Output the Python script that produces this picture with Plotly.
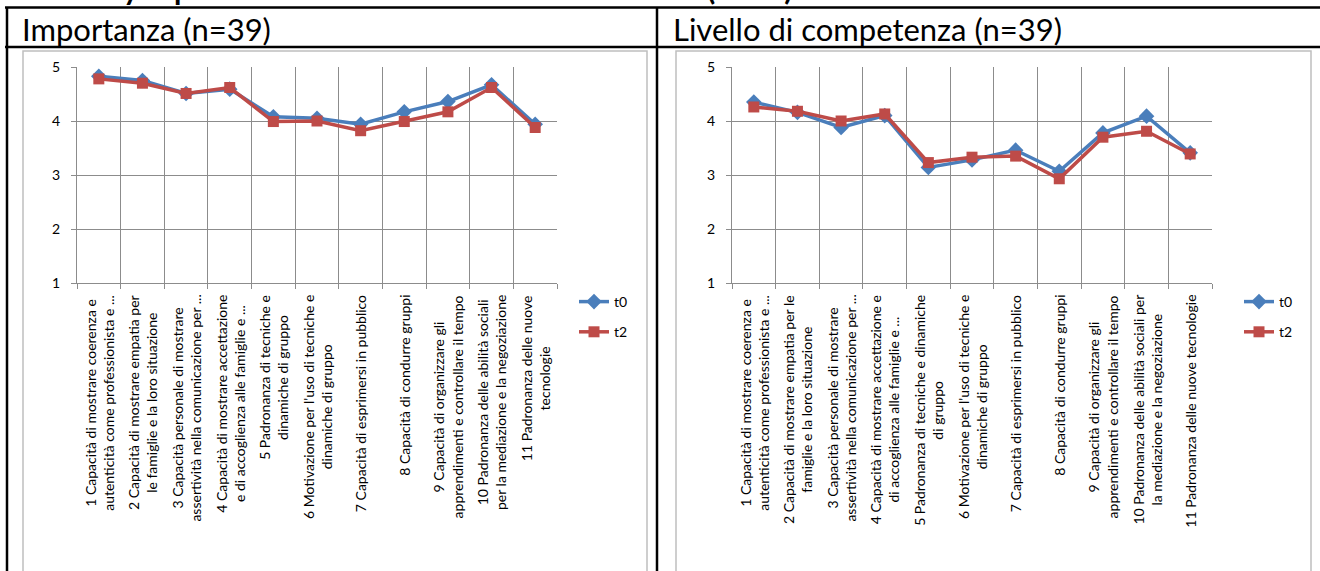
import plotly.graph_objects as go

W, H = 1320, 571

# --- data -------------------------------------------------------------
etichette_importanza = [
    "1 Capacità di mostrare coerenza e<br>autenticità come professionista e ...",
    "2 Capacità di mostrare empatia per<br>le famiglie e la loro situazione",
    "3 Capacità personale di mostrare<br>assertività nella comunicazione per ...",
    "4 Capacità di mostrare accettazione<br>e di accoglienza alle famiglie e ...",
    "5 Padronanza di tecniche e<br>dinamiche di gruppo",
    "6 Motivazione per l'uso di tecniche e<br>dinamiche di gruppo",
    "7 Capacità di esprimersi in pubblico",
    "8 Capacità di condurre gruppi",
    "9 Capacità di organizzare gli<br>apprendimenti e controllare il tempo",
    "10 Padronanza delle abilità sociali<br>per la mediazione e la negoziazione",
    "11 Padronanza delle nuove<br>tecnologie",
]
etichette_livello = [
    "1 Capacità di mostrare coerenza e<br>autenticità come professionista e ...",
    "2 Capacità di mostrare empatia per le<br>famiglie e la loro situazione",
    "3 Capacità personale di mostrare<br>assertività nella comunicazione per ...",
    "4 Capacità di mostrare accettazione e<br>di accoglienza alle famiglie e ...",
    "5 Padronanza di tecniche e dinamiche<br>di gruppo",
    "6 Motivazione per l'uso di tecniche e<br>dinamiche di gruppo",
    "7 Capacità di esprimersi in pubblico",
    "8 Capacità di condurre gruppi",
    "9 Capacità di organizzare gli<br>apprendimenti e controllare il tempo",
    "10 Padronanza delle abilità sociali per<br>la mediazione e la negoziazione",
    "11 Padronanza delle nuove tecnologie",
]

importanza_t0 = [4.83, 4.75, 4.51, 4.59, 4.08, 4.05, 3.94, 4.17, 4.36, 4.67, 3.94]
importanza_t2 = [4.78, 4.70, 4.51, 4.62, 3.99, 4.00, 3.82, 3.99, 4.17, 4.62, 3.88]
livello_t0 = [4.35, 4.16, 3.88, 4.10, 3.14, 3.28, 3.46, 3.07, 3.78, 4.09, 3.41]
livello_t2 = [4.26, 4.18, 4.00, 4.13, 3.23, 3.33, 3.35, 2.93, 3.70, 3.81, 3.39]

valori_y = [1, 2, 3, 4, 5]
pannelli = ["Importanza (n=39)", "Livello di competenza (n=39)"]

# --- helpers (pixel -> paper) -----------------------------------------
def xp(px):
    return px / W


def yp(py):
    return 1 - py / H


BLU = "#4A7EBB"
ROSSO = "#BE4B48"
GRIGIO = "#8C8C8C"
FONT = "Lato, 'Open Sans', sans-serif"

n = len(importanza_t0)
xs = list(range(1, n + 1))
confini = [i + 0.5 for i in range(0, n + 1)]

fig = go.Figure()

serie = [
    ("x", "y", "legend", importanza_t0, importanza_t2),
    ("x2", "y2", "legend2", livello_t0, livello_t2),
]
for xa, ya, leg, v0, v2 in serie:
    fig.add_trace(go.Scatter(
        x=xs, y=v0, xaxis=xa, yaxis=ya, name="t0", legend=leg, legendgroup="a",
        mode="lines+markers", line=dict(color=BLU, width=3.5),
        marker=dict(symbol="diamond", size=12, color=BLU),
    ))
    fig.add_trace(go.Scatter(
        x=xs, y=v2, xaxis=xa, yaxis=ya, name="t2", legend=leg, legendgroup="b",
        mode="lines+markers", line=dict(color=ROSSO, width=3.5),
        marker=dict(symbol="square", size=11, color=ROSSO),
    ))

asse_x = dict(
    range=[0.5, n + 0.5], tickvals=confini, showticklabels=False,
    ticks="outside", ticklen=5, tickcolor=GRIGIO, tickwidth=1,
    showgrid=True, gridcolor=GRIGIO, gridwidth=1,
    showline=True, linecolor=GRIGIO, linewidth=1, zeroline=False,
    automargin=False,
)
asse_y = dict(
    range=[1, 5], tickvals=valori_y, ticks="outside", ticklen=5,
    tickcolor=GRIGIO, showgrid=True, gridcolor=GRIGIO, gridwidth=1,
    showline=True, linecolor=GRIGIO, linewidth=1, zeroline=False,
    tickfont=dict(family=FONT, size=14, color="#000000"),
    ticklabelstandoff=8, automargin=False,
)

y_dom = [yp(283), yp(67)]
fig.update_layout(
    width=W, height=H,
    margin=dict(l=0, r=0, t=0, b=0),
    paper_bgcolor="white", plot_bgcolor="white",
    font=dict(family=FONT, color="#000000"),
    xaxis=dict(asse_x, domain=[xp(77), xp(557)]),
    yaxis=dict(asse_y, domain=y_dom, anchor="x"),
    xaxis2=dict(asse_x, domain=[xp(732), xp(1212)], anchor="y2"),
    yaxis2=dict(asse_y, domain=y_dom, anchor="x2"),
    legend=dict(x=xp(574), y=yp(286), xanchor="left", yanchor="top",
                font=dict(size=14, family=FONT), tracegroupgap=9,
                bgcolor="rgba(0,0,0,0)"),
    legend2=dict(x=xp(1239), y=yp(286), xanchor="left", yanchor="top",
                 font=dict(size=14, family=FONT), tracegroupgap=9,
                 bgcolor="rgba(0,0,0,0)"),
    showlegend=True,
)

# --- table frame and chart areas ----------------------------------------
forme = []
# chart areas (light grey)
for x0, x1 in [(23, 647), (676, 1311)]:
    forme.append(dict(type="rect", xref="paper", yref="paper",
                      x0=xp(x0), x1=xp(x1), y0=yp(H + 5), y1=yp(51),
                      line=dict(color="#BFBFBF", width=1.5), layer="below"))
# table rules (black)
linee = [
    (5, 7.5, W + 5, 7.5),
    (5, 47, W + 5, 47),
    (7, 7, 7, H + 5),
    (657, 7, 657, H + 5),
]
for x0, y0, x1, y1 in linee:
    forme.append(dict(type="line", xref="paper", yref="paper",
                      x0=xp(x0), y0=yp(y0), x1=xp(x1), y1=yp(y1),
                      line=dict(color="black", width=2.5)))
fig.update_layout(shapes=forme)

# --- texts ------------------------------------------------------------
note = []
# heading above the table (only its lowest part is inside the page)
for testo, x, ancora in [("Tabella 2 – Survey", 141, "right"),
                          ("per item e area di intervento", 172, "left"),
                          ("(n=39)", 705, "left")]:
    note.append(dict(text=testo, x=xp(x), y=yp(8), xref="paper", yref="paper",
                     xanchor=ancora, yanchor="bottom", showarrow=False,
                     font=dict(family=FONT, size=30, color="black", weight="bold")))

# panel titles
for testo, x in zip(pannelli, [20, 671]):
    note.append(dict(text=testo, x=xp(x), y=yp(29), xref="paper", yref="paper",
                     xanchor="left", yanchor="middle", showarrow=False,
                     font=dict(family=FONT, size=31, color="black")))

# rotated category labels
for xa, etichette in [("x", etichette_importanza), ("x2", etichette_livello)]:
    for i, t in enumerate(etichette):
        note.append(dict(text=t, x=xs[i], y=yp(293), xref=xa, yref="paper",
                         xanchor="center", yanchor="top", textangle=-90,
                         align="center", showarrow=False,
                         font=dict(family=FONT, size=14, color="#000000")))
fig.update_layout(annotations=note)

fig.write_html("out.html")
